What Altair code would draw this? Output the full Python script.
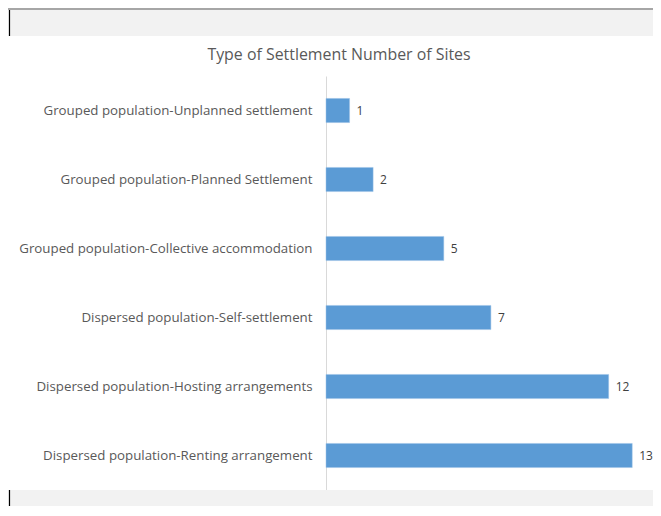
import altair as alt
import pandas as pd

categories = [
    "Grouped population-Unplanned settlement",
    "Grouped population-Planned Settlement",
    "Grouped population-Collective accommodation\u2009",
    "Dispersed population-Self-settlement",
    "Dispersed population-Hosting arrangements\u2007",
    "Dispersed population-Renting arrangement",
]
sites = [1, 2, 5, 7, 12, 13]
title_text = "Type of Settlement Number of Sites"

df = pd.DataFrame({"cat": categories, "n": sites})

FONT = "Open Sans"
W, H = 318, 414
TOP = 68

yenc = alt.Y("cat:N", sort=categories,
             scale=alt.Scale(paddingInner=0.65, paddingOuter=0.325),
             axis=alt.Axis(title=None, ticks=False, domain=True, domainColor="#d9d9d9",
                           labelColor="#595959", labelFont=FONT, labelFontSize=13.3,
                           labelPadding=14, labelLimit=400, grid=False))
xenc = alt.X("n:Q", scale=alt.Scale(domain=[0, 13.5], nice=False), axis=None)

bars = alt.Chart(df).mark_bar(color="#5b9bd5", stroke="#9dc3e6", strokeWidth=0.5).encode(x=xenc, y=yenc)
labels = alt.Chart(df).mark_text(align="left", dx=7, font=FONT, fontSize=12, color="#404040").encode(
    x=xenc, y=yenc, text="n:Q")

# decorative page frame (gray bands as in the screenshot)
top_band = alt.Chart(df.head(1)).mark_rect(color="#f2f2f2").encode(
    x=alt.value(-318), x2=alt.value(W + 9), y=alt.value(-TOP), y2=alt.value(-40))
top_line = alt.Chart(df.head(1)).mark_rect(color="#a6a6a6").encode(
    x=alt.value(-318), x2=alt.value(W + 9), y=alt.value(-TOP), y2=alt.value(-TOP + 2))
bot_band = alt.Chart(df.head(1)).mark_rect(color="#f2f2f2").encode(
    x=alt.value(-318), x2=alt.value(W + 9), y=alt.value(H), y2=alt.value(H + 20))
left_line1 = alt.Chart(df.head(1)).mark_rule(color="#000000", strokeWidth=1.2).encode(
    x=alt.value(-316.5), y=alt.value(-TOP + 2), y2=alt.value(-40))
left_line2 = alt.Chart(df.head(1)).mark_rule(color="#000000", strokeWidth=1.2).encode(
    x=alt.value(-316.5), y=alt.value(H), y2=alt.value(H + 20))
title = alt.Chart(df.head(1)).mark_text(font=FONT, fontSize=15.9, color="#595959", baseline="middle").encode(
    x=alt.value(13), y=alt.value(-21), text=alt.value(title_text))

chart = alt.layer(top_band, top_line, bot_band, left_line1, left_line2, bars, labels, title).properties(
    width=W, height=H,
    autosize=alt.AutoSizeParams(type="none"),
    padding={"left": 318, "top": TOP, "right": 9, "bottom": 16},
    background="#ffffff",
).configure_view(stroke=None)

chart.save("out.html", embed_options={"renderer": "svg", "actions": False})
